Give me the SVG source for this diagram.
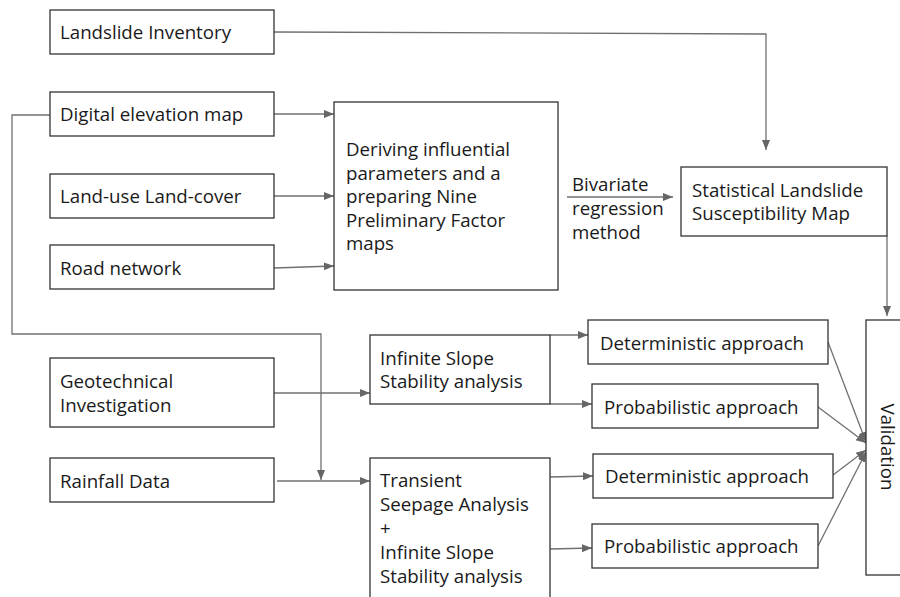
<svg xmlns="http://www.w3.org/2000/svg" width="900" height="597" viewBox="0 0 900 597">
<defs>
<marker id="ah" viewBox="0 0 10 10" refX="10" refY="5" markerWidth="10" markerHeight="10" markerUnits="userSpaceOnUse" orient="auto">
<path d="M0,1 L10,5 L0,9 z" fill="#666"/>
</marker>
<style>
.box{fill:#fff;stroke:#333;stroke-width:1.3}
.t{font-family:"Open Sans","Liberation Sans",sans-serif;font-size:18.7px;fill:#1a1a1a}
.c{fill:none;stroke:#707070;stroke-width:1.3}
.a{marker-end:url(#ah)}
</style>
</defs>
<rect width="900" height="597" fill="#fff"/>
<g id="connectors">
<polyline class="c a" points="274,32 766,34 766,150"/>
<line class="c a" x1="274" y1="114" x2="334" y2="114"/>
<line class="c a" x1="274" y1="196" x2="334" y2="196"/>
<line class="c a" x1="274" y1="268" x2="334" y2="266"/>
<polyline class="c a" points="50,115 12,115 12,334 321,334 321,480"/>
<line class="c a" x1="567" y1="197" x2="673" y2="197"/>
<line class="c a" x1="887" y1="236" x2="887" y2="316"/>
<line class="c a" x1="274" y1="393" x2="370" y2="393"/>
<line class="c a" x1="277" y1="481" x2="370" y2="481"/>
<line class="c a" x1="550" y1="335" x2="588" y2="335"/>
<line class="c a" x1="550" y1="404" x2="592" y2="404"/>
<line class="c a" x1="550" y1="477" x2="593" y2="476"/>
<line class="c a" x1="550" y1="549" x2="592" y2="548"/>
<line class="c a" x1="828" y1="342" x2="866" y2="442"/>
<line class="c a" x1="818" y1="407" x2="866" y2="443"/>
<line class="c a" x1="833" y1="475" x2="866" y2="450"/>
<line class="c a" x1="818" y1="546" x2="866" y2="452"/>
</g>
<g id="landslide-inventory"><rect class="box" x="50" y="10" width="224" height="44"/><text class="t" x="60" y="39">Landslide Inventory</text></g>
<g id="dem"><rect class="box" x="50" y="92" width="224" height="44"/><text class="t" x="60" y="121">Digital elevation map</text></g>
<g id="lulc"><rect class="box" x="50" y="174" width="224" height="44"/><text class="t" x="60" y="203">Land-use Land-cover</text></g>
<g id="road"><rect class="box" x="50" y="245" width="224" height="44"/><text class="t" x="60" y="275">Road network</text></g>
<g id="deriving"><rect class="box" x="334" y="102" width="224" height="188"/><text class="t" x="346" y="156">Deriving influential<tspan x="346" y="180">parameters and a</tspan><tspan x="346" y="203">preparing Nine</tspan><tspan x="346" y="227">Preliminary Factor</tspan><tspan x="346" y="250">maps</tspan></text></g>
<g id="bivariate-label"><text class="t" x="572" y="191">Bivariate<tspan x="572" y="215">regression</tspan><tspan x="572" y="239">method</tspan></text></g>
<g id="statistical"><rect class="box" x="681" y="167" width="206" height="69"/><text class="t" x="692" y="197">Statistical Landslide<tspan x="692" y="220">Susceptibility Map</tspan></text></g>
<g id="geotechnical"><rect class="box" x="50" y="358" width="224" height="69"/><text class="t" x="60" y="388">Geotechnical<tspan x="60" y="412">Investigation</tspan></text></g>
<g id="rainfall"><rect class="box" x="50" y="458" width="224" height="44"/><text class="t" x="60" y="488">Rainfall Data</text></g>
<g id="infinite-slope"><rect class="box" x="370" y="335" width="180" height="69"/><text class="t" x="380" y="365">Infinite Slope<tspan x="380" y="388">Stability analysis</tspan></text></g>
<g id="transient"><rect class="box" x="370" y="458" width="180" height="150"/><text class="t" x="380" y="487">Transient<tspan x="380" y="511">Seepage Analysis</tspan><tspan x="380" y="535">+</tspan><tspan x="380" y="559">Infinite Slope</tspan><tspan x="380" y="583">Stability analysis</tspan></text></g>
<g id="deterministic-1"><rect class="box" x="588" y="320" width="240" height="44"/><text class="t" x="600" y="350">Deterministic approach</text></g>
<g id="probabilistic-1"><rect class="box" x="592" y="384" width="226" height="44"/><text class="t" x="604" y="414">Probabilistic approach</text></g>
<g id="deterministic-2"><rect class="box" x="593" y="454" width="240" height="44"/><text class="t" x="605" y="483">Deterministic approach</text></g>
<g id="probabilistic-2"><rect class="box" x="592" y="524" width="226" height="44"/><text class="t" x="604" y="553">Probabilistic approach</text></g>
<g id="validation"><rect class="box" x="866" y="320" width="50" height="255"/><text class="t" transform="translate(881,447) rotate(90)" text-anchor="middle">Validation</text></g>
</svg>
